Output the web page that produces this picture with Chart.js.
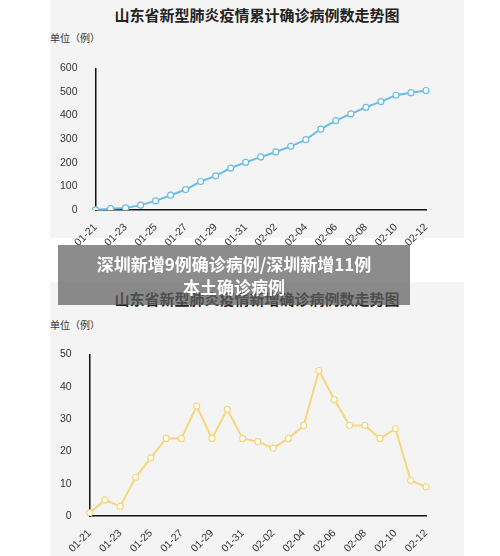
<!DOCTYPE html>
<html><head><meta charset="utf-8">
<script src="https://cdn.jsdelivr.net/npm/chart.js@4"></script>
<style>
body{margin:0;width:500px;height:556px;background:#fff;position:relative;overflow:hidden;font-family:"Noto Sans CJK SC",sans-serif}
.card{position:absolute;left:50px;width:414px;background:#f4f4f4}
.card h2{margin:0;position:absolute;left:0;right:0;text-align:center;font-size:15px;font-weight:bold;color:#222}
.card .unit{position:absolute;left:0px;font-size:10px;color:#333}
.card canvas{position:absolute;left:0}
#banner{position:absolute;left:58px;top:245px;width:352px;height:60px;background:rgba(95,95,95,0.72);color:#fff;font-weight:bold;font-size:17px;text-align:center;line-height:23px;padding-top:7px;box-sizing:border-box;z-index:2}
</style></head><body>
<div class="card" style="top:0;height:238px"><h2 style="top:4px">山东省新型肺炎疫情累计确诊病例数走势图</h2><div class="unit" style="top:30px">单位（例）</div><canvas id="c1" width="414" height="200" style="top:52px"></canvas></div>
<div class="card" style="top:282px;height:274px"><h2 style="top:6px">山东省新型肺炎疫情新增确诊病例数走势图</h2><div class="unit" style="top:35px">单位（例）</div><canvas id="c2" width="414" height="220" style="top:56px"></canvas></div>
<div id="banner">深圳新增9例确诊病例/深圳新增11例<br>本土确诊病例</div>
<script>
const dates = ['01-21','01-22','01-23','01-24','01-25','01-26','01-27','01-28','01-29','01-30','01-31','02-01','02-02','02-03','02-04','02-05','02-06','02-07','02-08','02-09','02-10','02-11','02-12'];
const cumulative = [1,6,9,21,39,63,87,121,145,178,202,225,246,270,298,343,379,407,435,459,486,497,506];
const daily = [1,5,3,12,18,24,24,34,24,33,24,23,21,24,28,45,36,28,28,24,27,11,9];

function makeChart(id, data, color, max, step) {
  new Chart(document.getElementById(id), {
    type: 'line',
    data: { labels: dates, datasets: [{ data, borderColor: color, borderWidth: 2, pointRadius: 3, pointBackgroundColor: '#fff', pointBorderColor: color, pointBorderWidth: 1.2, tension: 0 }] },
    options: {
      responsive: false, animation: false,
      layout: { padding: { left: 0, right: 38, top: 8 } },
      plugins: { legend: { display: false }, tooltip: { enabled: false } },
      scales: {
        x: { grid: { display: false }, border: { color: '#111', width: 1.5 },
             ticks: { autoSkip: false, maxRotation: 45, minRotation: 45, color: '#333', font: { size: 10.5 },
                      callback: (v, i) => i % 2 === 0 ? dates[i] : '' } },
        y: { min: 0, max, grid: { display: false }, border: { color: '#111', width: 1.5 },
             ticks: { stepSize: step, color: '#333', font: { size: 10.5 }, padding: 10 } }
      }
    }
  });
}
makeChart('c1', cumulative, '#6bbde6', 600, 100);
makeChart('c2', daily, '#f3d77a', 50, 10);
</script>
</body></html>
